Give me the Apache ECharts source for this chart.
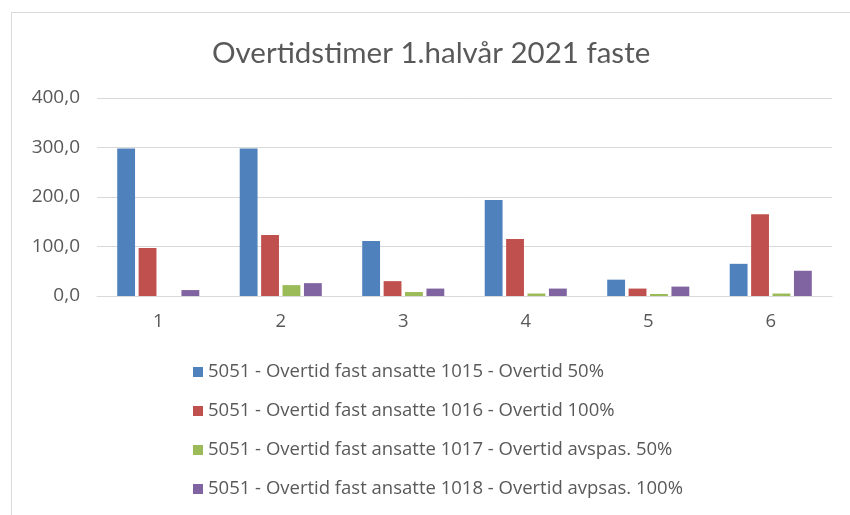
<!DOCTYPE html>
<html>
<head>
<meta charset="utf-8">
<script src="https://cdn.jsdelivr.net/npm/echarts@6/dist/echarts.min.js"></script>
<style>
html,body{margin:0;padding:0;background:#fff;}
#c{width:850px;height:515px;}
</style>
</head>
<body>
<div id="c"></div>
<script>
const titleText = 'Overtidstimer 1.halvår 2021 faste';
const categories = ['1', '2', '3', '4', '5', '6'];
const seriesNames = [
  '5051 - Overtid fast ansatte 1015 - Overtid 50%',
  '5051 - Overtid fast ansatte 1016 - Overtid 100%',
  '5051 - Overtid fast ansatte 1017 - Overtid avspas. 50%',
  '5051 - Overtid fast ansatte 1018 - Overtid avpsas. 100%'
];
const overtid50 = [298, 298, 111, 194, 33, 65];
const overtid100 = [97, 123, 30, 115, 15, 165];
const avspas50 = [0, 22, 8, 5, 4, 5];
const avspas100 = [12, 26, 15, 15, 19, 51];
const colors = ['#4F81BD', '#C0504D', '#9BBB59', '#8064A2'];

const chart = echarts.init(document.getElementById('c'), null, {renderer: 'canvas'});
const values = [overtid50, overtid100, avspas50, avspas100];
const font = 'Lato, "Noto Sans", sans-serif';
const font2 = '"Open Sans", "Noto Sans", sans-serif';
chart.setOption({
  animation: false,
  color: colors,
  graphic: [{
    type: 'rect',
    shape: {x: 11.5, y: 12.5, width: 860, height: 520},
    style: {fill: 'none', stroke: '#d9d9d9', lineWidth: 1},
    silent: true
  }],
  title: {
    text: titleText,
    left: 207,
    top: 33,
    textStyle: {fontFamily: font, fontSize: 29.5, fontWeight: 'normal', color: '#595959'}
  },
  legend: {
    orient: 'vertical',
    left: 188,
    top: 357,
    itemWidth: 10,
    itemHeight: 10,
    itemGap: 19,
    icon: 'rect',
    textStyle: {fontFamily: font2, fontSize: 18.5, color: '#595959', lineHeight: 20},
    data: seriesNames
  },
  grid: {left: 97, right: 18, top: 98, bottom: 219, containLabel: false},
  xAxis: {
    type: 'category',
    data: categories,
    axisLine: {lineStyle: {color: '#d9d9d9'}},
    axisTick: {show: false},
    axisLabel: {fontFamily: font2, fontSize: 18.5, color: '#595959', margin: 16}
  },
  yAxis: {
    type: 'value',
    min: 0,
    max: 400,
    interval: 100,
    axisLine: {show: false},
    axisTick: {show: false},
    splitLine: {lineStyle: {color: '#d9d9d9'}},
    axisLabel: {
      fontFamily: font2, fontSize: 19, color: '#595959', margin: 17,
      formatter: v => v.toFixed(1).replace('.', ',')
    }
  },
  series: seriesNames.map((n, i) => ({
    name: n,
    type: 'bar',
    data: values[i],
    barGap: '20%',
    barCategoryGap: '33%'
  }))
});
</script>
</body>
</html>
